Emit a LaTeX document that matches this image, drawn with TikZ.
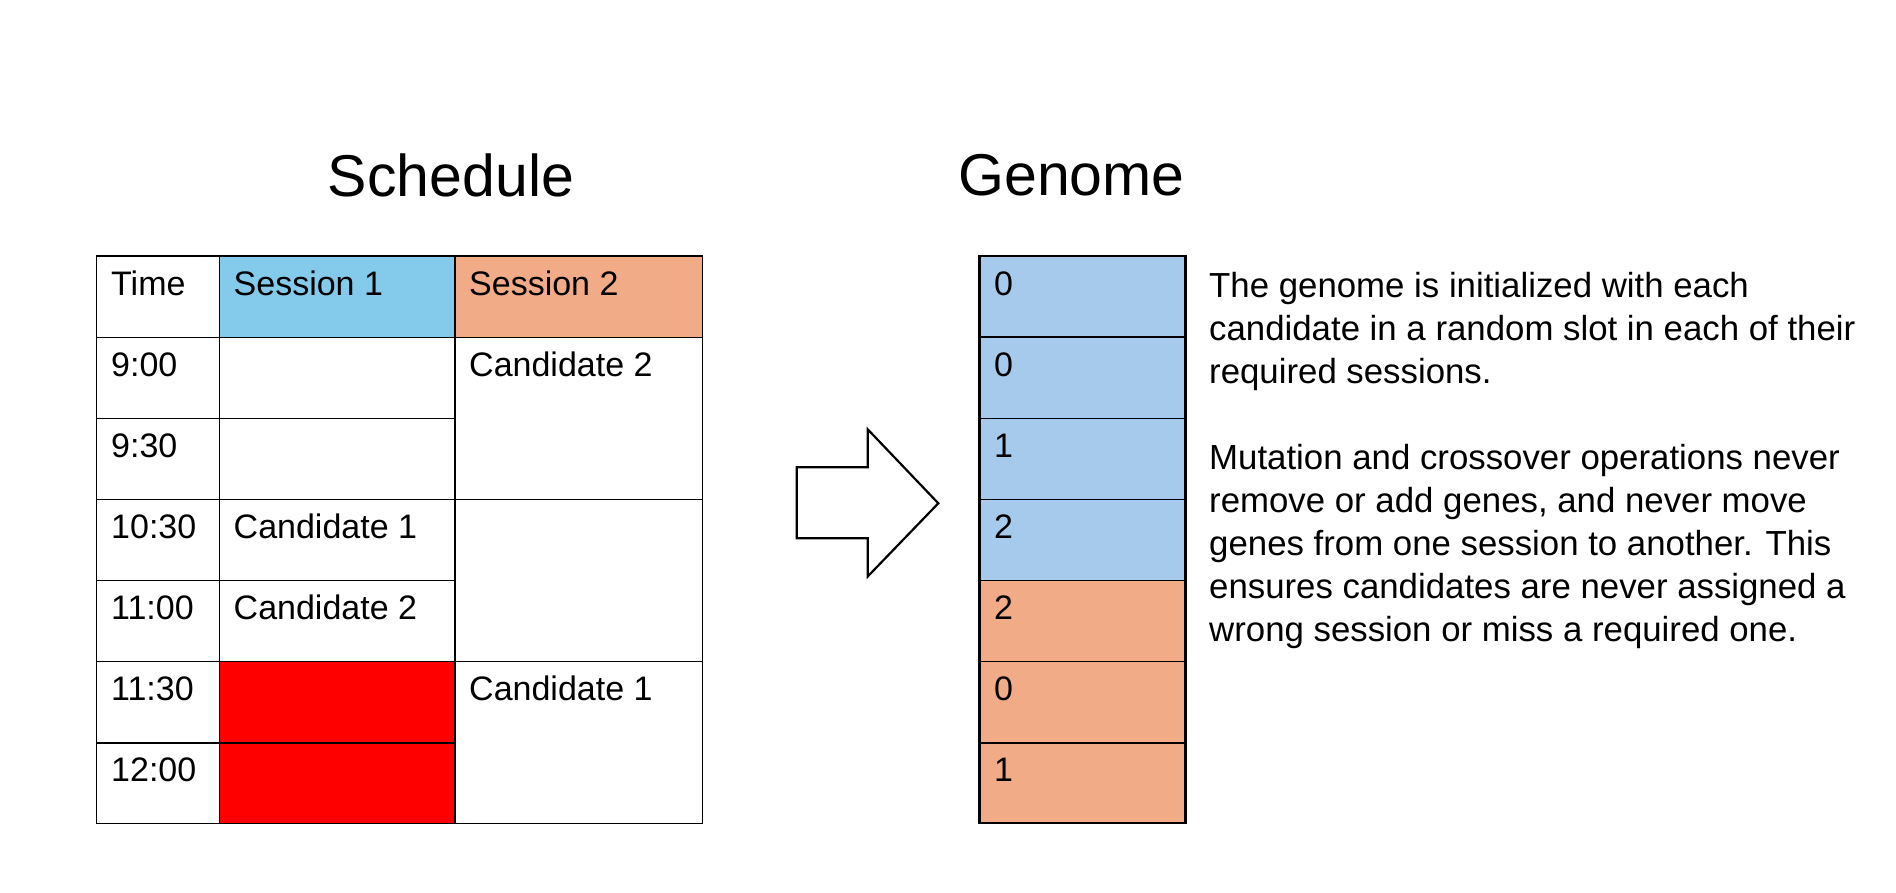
\documentclass[tikz,border=0pt]{standalone}
\usepackage{fontspec}
\setmainfont{Liberation Sans}
\definecolor{sOneBlue}{HTML}{83CAEB}
\definecolor{sTwoSalmon}{HTML}{F1AB86}
\definecolor{geneBlue}{HTML}{A6CAEC}
\definecolor{geneSalmon}{HTML}{F1AB86}
\definecolor{slotRed}{HTML}{FF0000}
\begin{document}
\begin{tikzpicture}[x=1pt,y=-1pt,
  cell/.style={draw=black, line width=1.4pt, inner sep=0pt, outer sep=0pt, anchor=north west},
  gene/.style={draw=black, line width=1.4pt, inner sep=0pt, outer sep=0pt, anchor=north west,
     minimum width=206pt, minimum height=81pt},
  celltext/.style={anchor=base west, inner sep=0pt, font=\fontsize{34}{40}\selectfont},
  title/.style={anchor=base, inner sep=0pt, font=\fontsize{59}{70}\selectfont},
  bodytext/.style={anchor=north west, inner sep=0pt, align=left, font=\fontsize{34.8}{43}\selectfont}]
\useasboundingbox (0,0) rectangle (1896,892);
\fill[white] (0,0) rectangle (1896,892);

% titles
\node[title] (ttlSched) at (451,196.5) {Schedule};
\node[title] (ttlGenome) at (1071.5,195) {Genome};

% ---- schedule table ----
% header
\node[cell, minimum width=122.6pt, minimum height=81.3pt] (hTime) at (96.7,256) {};
\node[cell, fill=sOneBlue, minimum width=235.7pt, minimum height=81.3pt] (hS1) at (219.3,256) {};
\node[cell, fill=sTwoSalmon, minimum width=247.7pt, minimum height=81.3pt] (hS2) at (455,256) {};
% time column
\node[cell, minimum width=122.6pt, minimum height=81.1pt] (t1) at (96.7,337.3) {};
\node[cell, minimum width=122.6pt, minimum height=81.1pt] (t2) at (96.7,418.4) {};
\node[cell, minimum width=122.6pt, minimum height=81.1pt] (t3) at (96.7,499.5) {};
\node[cell, minimum width=122.6pt, minimum height=81.1pt] (t4) at (96.7,580.6) {};
\node[cell, minimum width=122.6pt, minimum height=81.1pt] (t5) at (96.7,661.7) {};
\node[cell, minimum width=122.6pt, minimum height=80.5pt] (t6) at (96.7,742.8) {};
% session 1 column
\node[cell, minimum width=235.7pt, minimum height=81.1pt] (a1) at (219.3,337.3) {};
\node[cell, minimum width=235.7pt, minimum height=81.1pt] (a2) at (219.3,418.4) {};
\node[cell, minimum width=235.7pt, minimum height=81.1pt] (a3) at (219.3,499.5) {};
\node[cell, minimum width=235.7pt, minimum height=81.1pt] (a4) at (219.3,580.6) {};
\node[cell, fill=slotRed, minimum width=235.7pt, minimum height=81.1pt] (a5) at (219.3,661.7) {};
\node[cell, fill=slotRed, minimum width=235.7pt, minimum height=80.5pt] (a6) at (219.3,742.8) {};
% session 2 column (merged cells)
\node[cell, minimum width=247.7pt, minimum height=162.2pt] (b12) at (455,337.3) {};
\node[cell, minimum width=247.7pt, minimum height=162.2pt] (b34) at (455,499.5) {};
\node[cell, minimum width=247.7pt, minimum height=161.6pt] (b56) at (455,661.7) {};

% table texts
\node[celltext] (lTime) at (111,295) {Time};
\node[celltext] (lS1) at (233.5,295) {Session 1};
\node[celltext] (lS2) at (469,295) {Session 2};
\node[celltext] (l900) at (111,376.3) {9:00};
\node[celltext] (l930) at (111,457.4) {9:30};
\node[celltext] (l1030) at (111,538.5) {10:30};
\node[celltext] (l1100) at (111,619.6) {11:00};
\node[celltext] (l1130) at (111,700.7) {11:30};
\node[celltext] (l1200) at (111,781.8) {12:00};
\node[celltext] (lc1a) at (233.5,538.5) {Candidate 1};
\node[celltext] (lc2a) at (233.5,619.6) {Candidate 2};
\node[celltext] (lc2b) at (469,376.3) {Candidate 2};
\node[celltext] (lc1b) at (469,700.7) {Candidate 1};

% ---- arrow ----
\draw[line width=2.2pt, fill=white, line join=miter]
  (796.7,467.3) -- (867.7,467.3) -- (867.7,429.3) -- (938.3,503.3)
  -- (867.7,576.5) -- (867.7,538.3) -- (796.7,538.3) -- cycle;

% ---- genome ----
\node[gene, fill=geneBlue] (g1) at (979.5,256) {};
\node[gene, fill=geneBlue] (g2) at (979.5,337.3) {};
\node[gene, fill=geneBlue] (g3) at (979.5,418.4) {};
\node[gene, fill=geneBlue] (g4) at (979.5,499.5) {};
\node[gene, fill=geneSalmon] (g5) at (979.5,580.6) {};
\node[gene, fill=geneSalmon] (g6) at (979.5,661.7) {};
\node[gene, fill=geneSalmon, minimum height=80.5pt] (g7) at (979.5,742.8) {};
\draw[line width=2.2pt] (g1.north west) rectangle (g7.south east);

\node[celltext] (n1) at (994,295) {0};
\node[celltext] (n2) at (994,376.3) {0};
\node[celltext] (n3) at (994,457.4) {1};
\node[celltext] (n4) at (994,538.5) {2};
\node[celltext] (n5) at (994,619.6) {2};
\node[celltext] (n6) at (994,700.7) {0};
\node[celltext] (n7) at (994,781.8) {1};

% ---- description ----
\node[bodytext] (desc) at (1209,272.5) {The genome is initialized with each\\
candidate in a random slot in each of their\\
required sessions.\\[43pt]
Mutation and crossover operations never\\
remove or add genes, and never move\\
genes from one session to another. This\\
ensures candidates are never assigned a\\
wrong session or miss a required one.};
\end{tikzpicture}
\end{document}
